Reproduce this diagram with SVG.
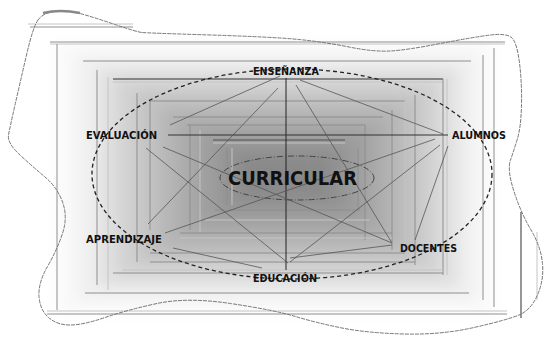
<svg xmlns="http://www.w3.org/2000/svg" width="548" height="339" viewBox="0 0 548 339">
<defs>
<filter id="soft" x="-10%" y="-10%" width="120%" height="120%"><feGaussianBlur stdDeviation="7"/></filter>
<style>
.sh{fill:#000;fill-opacity:0.07}
.fr{stroke:#8e8e8e;stroke-width:1;fill:none}
.fl{stroke:#c4c4c4;stroke-width:1;fill:none}
.fd{stroke:#6a6a6a;stroke-width:1.4;fill:none}
.cn{stroke:#555;stroke-width:0.8;fill:none}
.ax{stroke:#222;stroke-width:1;fill:none}
.lbl{font-family:"DejaVu Sans","Liberation Sans",sans-serif;font-weight:bold;font-size:10px;fill:#111}
.big{font-family:"DejaVu Sans","Liberation Sans",sans-serif;font-weight:bold;font-size:20px;fill:#111}
</style>
</defs>
<rect width="548" height="339" fill="#fff"/>
<g id="shading" filter="url(#soft)">
<rect x="57" y="42" width="437" height="271" class="sh" style="fill-opacity:0.025"/>
<rect x="77" y="55" width="399" height="245" class="sh" style="fill-opacity:0.04"/>
<rect x="98" y="68" width="360" height="219" class="sh"/>
<rect x="118" y="80" width="321" height="194" class="sh"/>
<rect x="138" y="93" width="283" height="168" class="sh"/>
<rect x="159" y="106" width="244" height="143" class="sh"/>
<rect x="179" y="119" width="206" height="117" class="sh"/>
<rect x="199" y="132" width="168" height="91" class="sh"/>
<rect x="220" y="144" width="128" height="66" class="sh"/>
<rect x="240" y="157" width="90" height="40" class="sh"/>
</g>
<g id="frames">
<line x1="28" y1="24" x2="133" y2="24" class="fl"/>
<line x1="30" y1="27" x2="133" y2="27" class="fr"/>
<line x1="50" y1="42" x2="505" y2="42" class="fr"/>
<line x1="50" y1="44" x2="505" y2="44" class="fl"/>
<line x1="57" y1="44" x2="57" y2="310" class="fr"/>
<line x1="47" y1="311" x2="507" y2="311" class="fl"/>
<line x1="47" y1="314" x2="507" y2="314" class="fr"/>
<line x1="494" y1="48" x2="494" y2="307" class="fr"/>
<line x1="483" y1="55" x2="483" y2="300" class="fr"/>
<line x1="521" y1="212" x2="521" y2="318" class="fd"/>
<line x1="537" y1="232" x2="537" y2="300" class="fl"/>
<line x1="83" y1="61" x2="471" y2="61" class="fr"/>
<line x1="97" y1="70" x2="97" y2="285" class="fr"/>
<line x1="108" y1="77" x2="108" y2="290" class="fl"/>
<line x1="85" y1="293" x2="469" y2="293" class="fr"/>
<line x1="113" y1="79" x2="443" y2="79" class="fd"/>
<line x1="113" y1="82" x2="443" y2="82" class="fl"/>
<line x1="443" y1="79" x2="443" y2="275" class="fr"/>
<line x1="447" y1="79" x2="447" y2="275" class="fl"/>
<line x1="137" y1="93" x2="137" y2="262" class="fr"/>
<line x1="113" y1="273" x2="443" y2="273" class="fr"/>
<line x1="122" y1="270" x2="443" y2="270" class="fl"/>
<line x1="150" y1="101" x2="405" y2="101" class="fr"/>
<line x1="150" y1="101" x2="150" y2="230" class="fr"/>
<line x1="415" y1="95" x2="415" y2="265" class="fr"/>
<line x1="405" y1="101" x2="405" y2="262" class="fl"/>
<line x1="150" y1="262" x2="415" y2="262" class="fr"/>
<line x1="173" y1="117" x2="383" y2="117" class="fr"/>
<line x1="187" y1="125" x2="365" y2="125" class="fr"/>
<line x1="190" y1="125" x2="190" y2="230" class="fr"/>
<line x1="200" y1="130" x2="200" y2="232" class="fl"/>
<line x1="392" y1="110" x2="392" y2="250" class="fr"/>
<line x1="365" y1="125" x2="365" y2="240" class="fr"/>
<line x1="180" y1="233" x2="392" y2="233" class="fr"/>
<line x1="180" y1="238" x2="392" y2="238" class="fl"/>
<line x1="150" y1="253" x2="405" y2="253" class="fr"/>
<line x1="150" y1="256" x2="405" y2="256" class="fl"/>
<line x1="213" y1="140" x2="345" y2="140" class="fd"/>
<line x1="213" y1="143" x2="345" y2="143" class="fl"/>
<line x1="227" y1="148" x2="227" y2="205" class="fr"/>
<line x1="232" y1="148" x2="232" y2="205" class="fl"/>
<line x1="358" y1="148" x2="358" y2="210" class="fr"/>
<line x1="327" y1="150" x2="327" y2="203" class="fr"/>
<line x1="242" y1="157" x2="308" y2="157" class="fr"/>
<line x1="242" y1="157" x2="242" y2="193" class="fr"/>
<line x1="308" y1="157" x2="308" y2="193" class="fr"/>
<line x1="242" y1="193" x2="308" y2="193" class="fr"/>
<line x1="215" y1="210" x2="360" y2="210" class="fr"/>
<line x1="205" y1="220" x2="370" y2="220" class="fl"/>
</g>
<path id="blob" d="M38,20 Q43,13 55,11.5 Q67,10 80,13.5 Q93,17 115,24.5 Q137,32 142,32.5 Q147,33 210.5,35 Q274,37 299,39.5 Q324,42 349,47 Q374,52 390.5,51 Q407,50 440.5,43.5 Q474,37 490.5,35 Q507,33 512,38 Q517,43 519.5,63 Q522,83 521.5,105 Q521,127 517.5,138.5 Q514,150 510.5,160 Q507,170 514,191.5 Q521,213 531,230 Q541,247 542.5,263.5 Q544,280 537.5,295 Q531,310 519,315 Q507,320 474,327.5 Q441,335 404,334 Q367,333 342,328 Q317,323 295.5,316.5 Q274,310 230.5,303.5 Q187,297 157,303.5 Q127,310 105,317.5 Q83,325 70,325 Q57,325 48.5,317.5 Q40,310 39,296.5 Q38,283 47.5,266.5 Q57,250 62.5,233.5 Q68,217 62.5,202 Q57,187 45,177 Q33,167 20,155 Q7,143 8.5,135 Q10,127 15,105 Q20,83 26.5,55 Q33,27 38,20 Z" fill="none" stroke="#777" stroke-width="1" stroke-dasharray="4 1"/>
<path d="M43,13 Q60,9 80,13" fill="none" stroke="#888" stroke-width="2.5"/>
<g id="connectors">
<line x1="286" y1="78" x2="286" y2="270" class="ax"/>
<line x1="168" y1="135" x2="448" y2="135" class="ax" style="stroke:#333"/>
<line x1="280" y1="76" x2="170" y2="125" class="cn"/>
<line x1="278" y1="88" x2="148" y2="224" class="cn"/>
<line x1="300" y1="80" x2="443" y2="134" class="cn"/>
<line x1="296" y1="85" x2="392" y2="243" class="cn"/>
<line x1="146" y1="148" x2="288" y2="263" class="cn"/>
<line x1="163" y1="147" x2="392" y2="243" class="cn"/>
<line x1="165" y1="233" x2="435" y2="139" class="cn"/>
<line x1="440" y1="145" x2="290" y2="262" class="cn"/>
<line x1="448" y1="146" x2="415" y2="240" class="cn"/>
<line x1="173" y1="248" x2="262" y2="268" class="cn"/>
<line x1="290" y1="258" x2="392" y2="245" class="cn"/>
<ellipse cx="292" cy="174" rx="200" ry="105" fill="none" stroke="#222" stroke-width="1.3" stroke-dasharray="4 3"/>
<ellipse cx="297" cy="178" rx="77" ry="22" fill="none" stroke="#444" stroke-width="1" stroke-dasharray="6 2 1 2"/>
</g>
<g id="node-ensenanza"><text x="253" y="75" class="lbl" textLength="66" lengthAdjust="spacingAndGlyphs">ENSEÑANZA</text></g>
<g id="node-evaluacion"><text x="86" y="139" class="lbl" textLength="71" lengthAdjust="spacingAndGlyphs">EVALUACIÓN</text></g>
<g id="node-alumnos"><text x="452" y="139" class="lbl" textLength="54" lengthAdjust="spacingAndGlyphs">ALUMNOS</text></g>
<g id="node-aprendizaje"><text x="86" y="243" class="lbl" textLength="76" lengthAdjust="spacingAndGlyphs">APRENDIZAJE</text></g>
<g id="node-docentes"><text x="400" y="252" class="lbl" textLength="57" lengthAdjust="spacingAndGlyphs">DOCENTES</text></g>
<g id="node-educacion"><text x="253" y="282" class="lbl" textLength="64" lengthAdjust="spacingAndGlyphs">EDUCACIÓN</text></g>
<g id="node-curricular"><text x="228" y="185" class="big" textLength="129" lengthAdjust="spacingAndGlyphs">CURRICULAR</text></g>
</svg>
